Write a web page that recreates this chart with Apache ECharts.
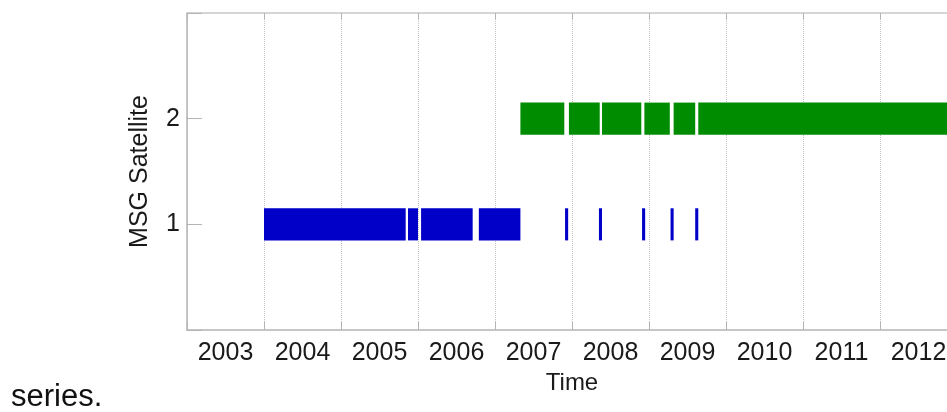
<!DOCTYPE html>
<html>
<head>
<meta charset="utf-8">
<script src="https://cdn.jsdelivr.net/npm/echarts@6/dist/echarts.min.js"></script>
<style>
  html, body { margin: 0; padding: 0; background: #fff; overflow: hidden; }
  #chart { width: 957px; height: 412px; }
</style>
</head>
<body>
<div id="chart"></div>
<script>
// year labels on the time axis (one per year, centred in the year)
var years = ['2003', '2004', '2005', '2006', '2007', '2008', '2009', '2010', '2011', '2012'];

// MSG-1 operating periods (decimal years)
var msg1Start = [2004.00, 2005.87, 2006.04, 2006.79, 2007.91, 2008.35, 2008.91, 2009.28, 2009.60];
var msg1End   = [2005.84, 2006.00, 2006.71, 2007.33, 2007.95, 2008.39, 2008.95, 2009.32, 2009.64];

// MSG-2 operating periods (decimal years)
var msg2Start = [2007.33, 2007.96, 2008.39, 2008.94, 2009.32, 2009.64];
var msg2End   = [2007.90, 2008.36, 2008.90, 2009.27, 2009.60, 2013.00];

var barHalf = 0.152;

function periods(starts, ends, sat) {
    var out = [];
    for (var i = 0; i < starts.length; i++) {
        out.push([starts[i], ends[i], sat]);
    }
    return out;
}

function renderBar(params, api) {
    var a = api.coord([api.value(0), api.value(2) + barHalf]);
    var b = api.coord([api.value(1), api.value(2) - barHalf]);
    return {
        type: 'rect',
        shape: { x: a[0], y: a[1], width: b[0] - a[0], height: b[1] - a[1] },
        style: api.style()
    };
}

var myChart = echarts.init(document.querySelector('#chart'));

var axisGray = '#b4b4b4';
var font = 'Liberation Sans, Arial, sans-serif';

option = {
    animation: false,
    backgroundColor: '#fff',
    grid: { left: 187, top: 13, right: 0, bottom: 82, containLabel: false },
    xAxis: [{
        type: 'category',
        data: years,
        boundaryGap: true,
        position: 'bottom',
        axisLine: { show: true, lineStyle: { color: axisGray, width: 1.5 } },
        axisTick: { show: true, inside: true, length: 8, alignWithLabel: false, lineStyle: { color: axisGray } },
        axisLabel: { show: true, margin: 11, color: '#1a1a1a', fontSize: 25, fontFamily: font },
        splitLine: { show: true, lineStyle: { color: '#c4c4c4', type: 'dotted', width: 1 } },
        name: 'Time',
        nameLocation: 'middle',
        nameGap: 38,
        nameTextStyle: { color: '#1a1a1a', fontSize: 24, fontFamily: font }
    }, {
        type: 'value',
        min: 2003,
        max: 2013,
        show: false
    }, {
        type: 'category',
        data: years,
        boundaryGap: true,
        position: 'top',
        axisLine: { show: true, lineStyle: { color: '#c8c8c8', width: 1.5 } },
        axisTick: { show: true, inside: true, length: 6, alignWithLabel: false, lineStyle: { color: axisGray } },
        axisLabel: { show: false },
        splitLine: { show: false }
    }],
    yAxis: {
        type: 'value',
        min: 0,
        max: 3,
        interval: 1,
        axisLine: { show: true, lineStyle: { color: axisGray, width: 1.5 } },
        axisTick: { show: true, inside: true, length: 15, lineStyle: { color: axisGray } },
        axisLabel: {
            show: true, margin: 7, color: '#1a1a1a', fontSize: 25, fontFamily: font,
            formatter: function (v) { return (v === 1 || v === 2) ? String(v) : ''; }
        },
        splitLine: { show: false },
        name: 'MSG Satellite',
        nameLocation: 'middle',
        nameGap: 34,
        nameTextStyle: { color: '#1a1a1a', fontSize: 25, fontFamily: font }
    },
    graphic: [{
        type: 'text',
        left: 11,
        top: 382,
        style: { text: 'series.', fontSize: 31, fontFamily: font, fill: '#111' }
    }],
    series: [{
        name: 'MSG-1',
        type: 'custom',
        xAxisIndex: 1,
        renderItem: renderBar,
        itemStyle: { color: '#0000c8' },
        encode: { x: [0, 1], y: 2 },
        data: periods(msg1Start, msg1End, 1)
    }, {
        name: 'MSG-2',
        type: 'custom',
        xAxisIndex: 1,
        renderItem: renderBar,
        itemStyle: { color: '#008c00' },
        encode: { x: [0, 1], y: 2 },
        data: periods(msg2Start, msg2End, 2)
    }]
};

myChart.setOption(option);
</script>
</body>
</html>
